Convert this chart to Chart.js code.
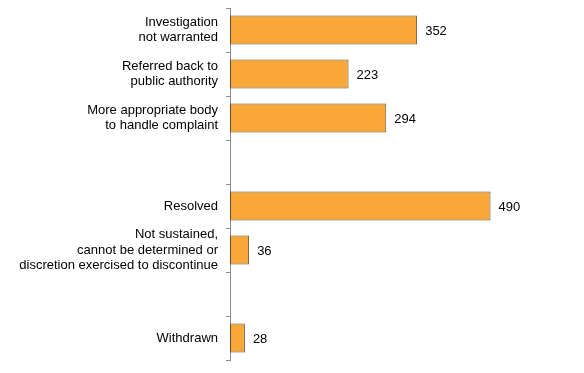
<!DOCTYPE html>
<html><head><meta charset="utf-8">
<script src="https://cdn.jsdelivr.net/npm/chart.js@4/dist/chart.umd.min.js"></script>
<style>html,body{margin:0;padding:0;background:#fff}#wrap{width:584px;height:373px}</style>
</head><body><div id="wrap"><canvas id="c" width="584" height="373"></canvas></div>
<script>
const categories = [
  ["Investigation", "not warranted"],
  ["Referred back to", "public authority"],
  ["More appropriate body", "to handle complaint"],
  "",
  "Resolved",
  ["Not sustained,", "cannot be determined or", "discretion exercised to discontinue"],
  "",
  "Withdrawn"
];
const values = [352, 223, 294, null, 490, 36, null, 28];

const valueLabels = {
  id: 'valueLabels',
  afterDatasetsDraw(chart) {
    const ctx = chart.ctx;
    const meta = chart.getDatasetMeta(0);
    ctx.save();
    ctx.font = '13px "Liberation Sans", Arial, sans-serif';
    ctx.fillStyle = '#000';
    ctx.textAlign = 'left';
    ctx.textBaseline = 'middle';
    meta.data.forEach((bar, i) => {
      const v = values[i];
      if (v == null) return;
      ctx.fillText(String(v), bar.x + 8, bar.y + 1);
    });
    ctx.restore();
  }
};

new Chart(document.getElementById('c'), {
  type: 'bar',
  data: {
    labels: categories,
    datasets: [{
      data: values,
      backgroundColor: '#F9A737',
      borderColor: '#5a4e40',
      borderWidth: 1,
      borderSkipped: false,
      categoryPercentage: 0.815,
      barPercentage: 0.815
    }]
  },
  options: {
    indexAxis: 'y',
    responsive: false,
    animation: false,
    layout: { padding: { left: 0, right: 35, top: 8, bottom: 13 } },
    plugins: { legend: { display: false }, tooltip: { enabled: false } },
    scales: {
      x: { display: false, min: 0, max: 600 },
      y: {
        afterFit(scale) { scale.width = 230; scale.paddingTop = 0; scale.paddingBottom = 0; },
        border: { display: true, color: '#8c8c8c', width: 1 },
        grid: { display: true, drawOnChartArea: false, drawTicks: true, tickLength: 4, color: '#8c8c8c', offset: true },
        ticks: {
          autoSkip: false,
          padding: 8,
          color: '#000',
          font: { family: '"Liberation Sans", Arial, sans-serif', size: 13, lineHeight: 1.2 }
        }
      }
    }
  },
  plugins: [valueLabels]
});
</script></body></html>
